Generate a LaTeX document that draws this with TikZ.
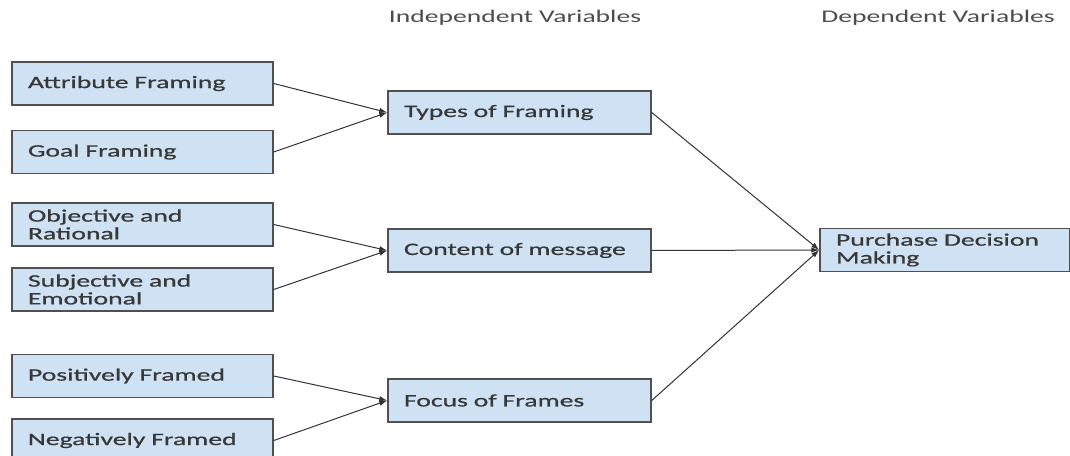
\documentclass[tikz,border=0pt]{standalone}
\usepackage{fontspec}
\setmainfont{Carlito}[FakeStretch=1.58, FakeBold=0.8]
\newfontfamily\headfont{Carlito}[FakeStretch=1.55]
\usetikzlibrary{arrows.meta}
\definecolor{boxfill}{HTML}{CFE2F3}
\definecolor{boxline}{HTML}{505050}
\definecolor{txt}{HTML}{383838}
\begin{document}
\begin{tikzpicture}[x=1pt,y=1pt]
        \tikzstyle{every node}=[font=\fontsize{17.5}{17.8}\selectfont, text=txt]
        \tikzstyle{header}=[font=\headfont\fontsize{17.8}{18}\selectfont, text=black!70]
        \tikzstyle{varbox}=[draw=boxline, line width=1.5pt, fill=boxfill, minimum height=43pt, inner xsep=16pt, align=left]
        \tikzstyle{leftbox}=[varbox, minimum width=261pt, text width=229pt]
        \tikzstyle{midbox}=[varbox, minimum width=263pt, text width=231pt]
        \tikzstyle{link}=[draw=black!80, line width=1pt, -{Latex[length=8pt,width=5.5pt]}]
        \useasboundingbox (0,0) rectangle (1070,455);

        \node[header] (hind) at (515,437) {Independent Variables};
        \node[header] (hdep) at (938,437) {Dependent Variables};

        \node[leftbox] (attr) at (142.5,371.5) {Attribute Framing};
        \node[leftbox] (goal) at (142.5,303) {Goal Framing};
        \node[leftbox] (obj) at (142.5,230.5) {Objective and\\Rational};
        \node[leftbox] (subj) at (142.5,165.5) {Subjective and\\Emotional};
        \node[leftbox] (pos) at (142.5,79) {Positively Framed};
        \node[leftbox] (neg) at (142.5,14.5) {Negatively Framed};

        \node[midbox] (types) at (519.5,342.5) {Types of Framing};
        \node[midbox] (content) at (519.5,204.5) {Content of message};
        \node[midbox] (focus) at (519.5,54.5) {Focus of Frames};

        \node[varbox, minimum width=250pt, text width=218pt] (purchase) at (945,205) {Purchase Decision\\Making};

        \draw [link] (attr.east) -- (types.west);
        \draw [link] (goal.east) -- (types.west);
        \draw [link] (obj.east) -- (content.west);
        \draw [link] (subj.east) -- (content.west);
        \draw [link] (pos.east) -- (focus.west);
        \draw [link] (neg.east) -- (focus.west);

        \draw [link] (types.east) -- (purchase.west);
        \draw [link] (content.east) -- (purchase.west);
        \draw [link] (focus.east) -- (purchase.west);
\end{tikzpicture}
\end{document}
